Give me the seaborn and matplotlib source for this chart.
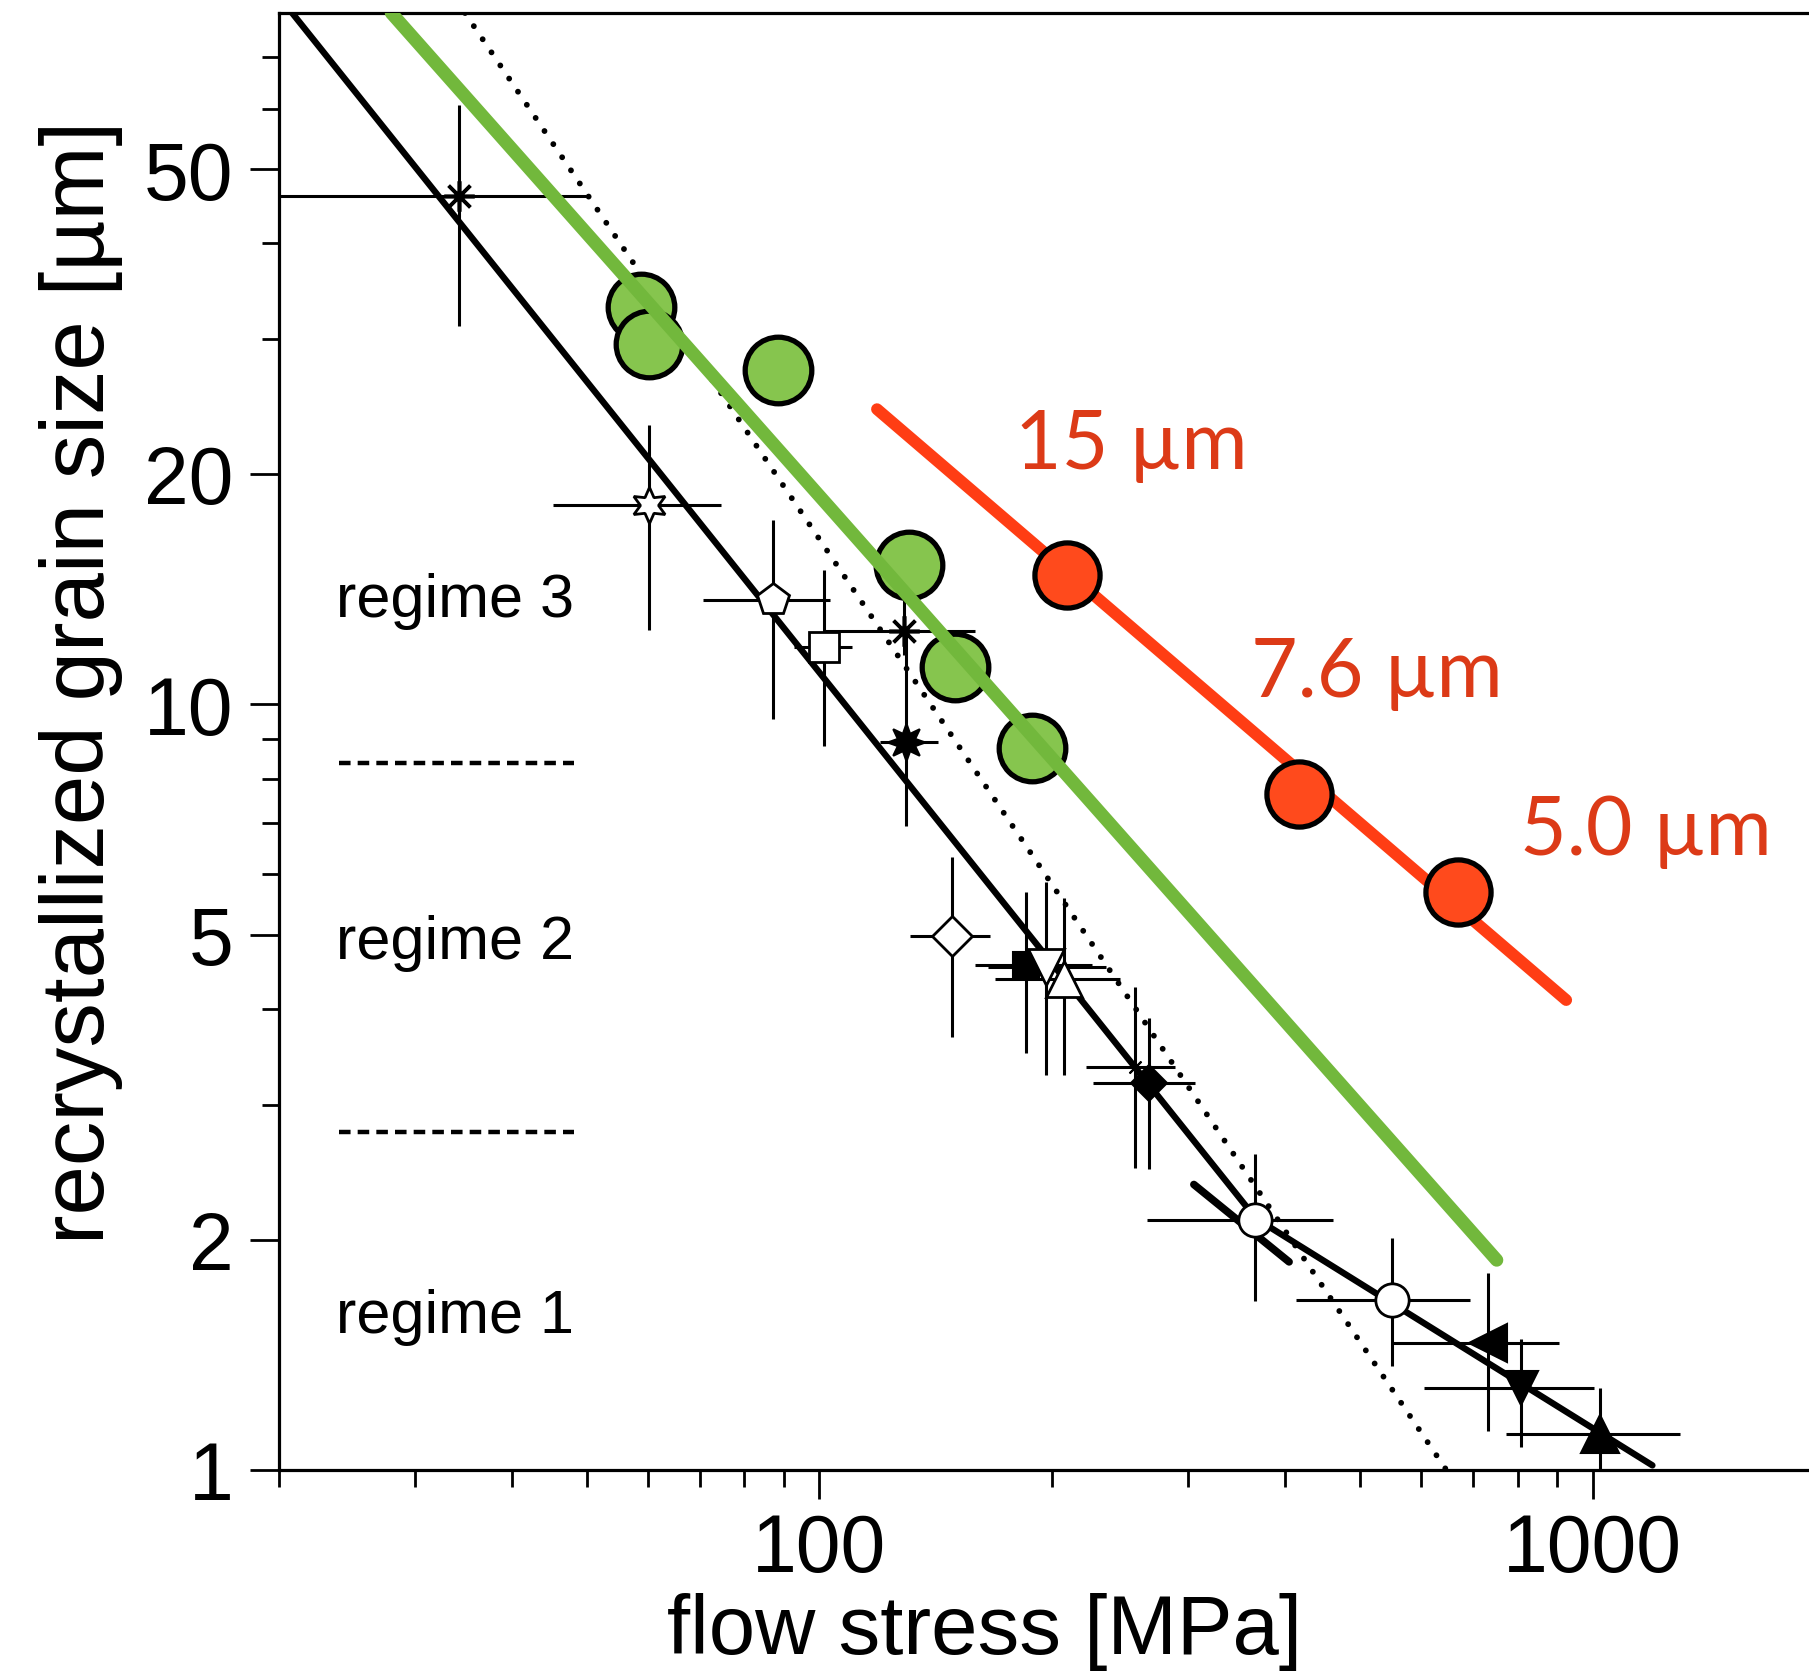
import numpy as np
import pandas as pd
import matplotlib
matplotlib.use("Agg")
import matplotlib.pyplot as plt
import seaborn as sns
from matplotlib.ticker import FixedLocator, FixedFormatter, NullFormatter

# ---------------- data ----------------
# green circles: flow stress [MPa], grain size [um]
green_stress = [58.8, 60.2, 88.4, 130.7, 149.8, 188.5]
green_size = [33.0, 29.6, 27.3, 15.2, 11.2, 8.76]
green_fit_stress = [27.95, 751.6]
green_fit_size = [80.0, 1.88]

# red circles
red_stress = [208.9, 417.4, 669.8]
red_size = [14.76, 7.63, 5.68]
red_fit_stress = [118.7, 924.4]
red_fit_size = [24.3, 4.11]
red_labels = ["15 µm", "7.6 µm", "5.0 µm"]
red_label_stress = [179.0, 362.0, 805.0]
red_label_size = [21.8, 10.98, 6.83]

# black piezometer lines
steep_stress = [20.8, 367.0]
steep_size = [80.0, 2.13]
regime1_stress = [367.0, 1195.0]
regime1_size = [2.13, 1.014]
stub_stress = [305.0, 405.0]
stub_size = [2.36, 1.87]
dotted_stress = [34.8, 647.0]
dotted_size = [80.0, 1.0]

# black data points with error bars
pt_stress = [34.2, 60.2, 87.2, 101.4, 128.8, 129.3, 148.3, 185.1, 196.5, 207.2,
             256.2, 266.5, 366.3, 550.4, 731.7, 809.0, 1023.5]
pt_size = [46.1, 18.2, 13.7, 11.88, 12.47, 8.92, 4.99, 4.56, 4.54, 4.38,
           3.365, 3.20, 2.12, 1.665, 1.467, 1.278, 1.115]
pt_stress_lo = [15.0, 45.2, 70.7, 92.6, 101.2, 119.7, 131.1, 158.8, 165.0, 168.7,
                221.5, 225.8, 265.0, 413.6, 551.2, 605.2, 771.7]
pt_stress_hi = [49.9, 74.5, 103.1, 110.2, 159.0, 142.4, 166.4, 225.5, 235.0, 244.5,
                288.3, 306.4, 461.1, 694.0, 904.3, 1003.0, 1296.0]
pt_size_lo = [31.2, 12.5, 9.56, 8.83, 11.6, 6.93, 3.68, 3.5, 3.28, 3.28,
              2.48, 2.47, 1.66, 1.366, 1.126, 1.072, 1.0]
pt_size_hi = [60.6, 23.2, 17.4, 15.0, 14.1, 12.5, 6.31, 5.69, 5.86, 5.58,
              4.28, 3.89, 2.59, 2.01, 1.81, 1.484, 1.278]

# regime annotations
regime_labels = ["regime 3", "regime 2", "regime 1"]
regime_label_size = [13.67, 4.89, 1.587]
regime_boundary_size = [8.38, 2.766]
regime_text_stress = 23.7
regime_line_stress = [23.9, 48.2]

y_ticks = [1, 2, 5, 10, 20, 50]
y_tick_labels = ["1", "2", "5", "10", "20", "50"]
x_ticks = [100, 1000]
x_tick_labels = ["100", "1000"]

# ---------------- styles ----------------
pt_styles = [
    dict(marker=(8, 2, 0), ms=22, mfc="black", mew=2.6),
    dict(marker=(6, 1, 0), ms=26, mfc="white", mew=2.0),
    dict(marker="p", ms=24, mfc="white", mew=2.0),
    dict(marker="s", ms=21, mfc="white", mew=2.0),
    dict(marker=(8, 2, 0), ms=22, mfc="black", mew=2.6),
    dict(marker=(8, 1, 0), ms=27, mfc="black", mew=1.5),
    dict(marker="D", ms=20, mfc="white", mew=2.0),
    dict(marker="s", ms=19, mfc="black", mew=1.5),
    dict(marker="v", ms=26, mfc="white", mew=2.0),
    dict(marker="^", ms=26, mfc="white", mew=2.0),
    dict(marker=(8, 2, 0), ms=12, mfc="black", mew=1.5),
    dict(marker="D", ms=18, mfc="black", mew=1.5),
    dict(marker="o", ms=24, mfc="white", mew=2.0),
    dict(marker="o", ms=24, mfc="white", mew=2.0),
    dict(marker="<", ms=27, mfc="black", mew=1.5),
    dict(marker="v", ms=25, mfc="black", mew=1.5),
    dict(marker="^", ms=27, mfc="black", mew=1.5),
]

GREEN_FILL = "#86C54E"
GREEN_LINE = "#72B83C"
RED_FILL = "#FF4A1C"
RED_LINE = "#FF3D14"
RED_TEXT = "#DC3A17"

sns.set_theme(style="ticks")
plt.rcParams["font.family"] = ["Liberation Sans", "DejaVu Sans"]
plt.rcParams["axes.linewidth"] = 2.3
plt.rcParams["lines.dash_capstyle"] = "round"

W, H = 1809, 1674
fig = plt.figure(figsize=(W / 100, H / 100), dpi=100)
left_px, bottom_px, top_px = 279, 1471, 14
ax = fig.add_axes([left_px / W, 1 - bottom_px / H, 1 - left_px / W, (bottom_px - top_px) / H])
ax.set_xscale("log")
ax.set_yscale("log")
ax.set_xlim(20, 1905)
ax.set_ylim(1, 80)

# error bars
x = np.array(pt_stress); y = np.array(pt_size)
xerr = [x - np.array(pt_stress_lo), np.array(pt_stress_hi) - x]
yerr = [y - np.array(pt_size_lo), np.array(pt_size_hi) - y]
ax.errorbar(x, y, xerr=xerr, yerr=yerr, fmt="none", ecolor="black",
            elinewidth=2.2, capsize=0, zorder=2)

# black lines
sns.lineplot(x=steep_stress, y=steep_size, ax=ax, color="black", linewidth=4.6,
             sort=False, estimator=None, zorder=3)
sns.lineplot(x=regime1_stress, y=regime1_size, ax=ax, color="black", linewidth=4.6,
             sort=False, estimator=None, zorder=3)
sns.lineplot(x=stub_stress, y=stub_size, ax=ax, color="black", linewidth=5.5,
             sort=False, estimator=None, zorder=3)
sns.lineplot(x=dotted_stress, y=dotted_size, ax=ax, color="black", linewidth=4.2,
             sort=False, estimator=None, zorder=3,
             linestyle=(0, (0.01, 2.7)), dash_capstyle="round")

# black markers
for xi, yi, st in zip(pt_stress, pt_size, pt_styles):
    ax.plot([xi], [yi], linestyle="none", marker=st["marker"], markersize=st["ms"],
            markerfacecolor=st["mfc"], markeredgecolor="black",
            markeredgewidth=st["mew"], zorder=4)

# green
sns.scatterplot(x=green_stress, y=green_size, ax=ax, s=2300, color=GREEN_FILL,
                edgecolor="black", linewidth=3.8, zorder=5)
sns.lineplot(x=green_fit_stress, y=green_fit_size, ax=ax, color=GREEN_LINE, linewidth=9.5,
             sort=False, estimator=None, zorder=6)

# red
sns.lineplot(x=red_fit_stress, y=red_fit_size, ax=ax, color=RED_LINE, linewidth=8.5,
             sort=False, estimator=None, zorder=6)
sns.scatterplot(x=red_stress, y=red_size, ax=ax, s=2200, color=RED_FILL,
                edgecolor="black", linewidth=3.8, zorder=7)
for lab, xs, ys in zip(red_labels, red_label_stress, red_label_size):
    ax.text(xs, ys, lab, color=RED_TEXT, fontsize=58, ha="left", va="center",
            family=["Lato", "DejaVu Sans"], zorder=8)

# regime annotations
for lab, ys in zip(regime_labels, regime_label_size):
    ax.text(regime_text_stress, ys, lab, fontsize=44, ha="left", va="center",
            color="black", zorder=8)
for ys in regime_boundary_size:
    ax.plot(regime_line_stress, [ys, ys], color="black", lw=3.2,
            linestyle=(0, (2.6, 1.6)), dash_capstyle="butt", zorder=3)

# axes styling
ax.yaxis.set_major_locator(FixedLocator(y_ticks))
ax.yaxis.set_major_formatter(FixedFormatter(y_tick_labels))
ax.yaxis.set_minor_locator(FixedLocator([3, 4, 6, 7, 8, 9, 30, 40, 60, 70]))
ax.yaxis.set_minor_formatter(NullFormatter())
ax.xaxis.set_major_locator(FixedLocator(x_ticks))
ax.xaxis.set_major_formatter(FixedFormatter(x_tick_labels))
ax.xaxis.set_minor_locator(FixedLocator([20, 30, 40, 50, 60, 70, 80, 90,
                                         200, 300, 400, 500, 600, 700, 800, 900]))
ax.xaxis.set_minor_formatter(NullFormatter())
ax.tick_params(which="major", direction="out", length=21, width=2.0,
               labelsize=58, pad=12, color="black", labelcolor="black")
ax.tick_params(axis="x", which="major", pad=9)
ax.tick_params(which="minor", direction="out", length=12, width=2.0, color="black")
ax.spines["right"].set_visible(False)
for s in ["left", "bottom", "top"]:
    ax.spines[s].set_color("black")

ax.set_xlabel("flow stress [MPa]", fontsize=60, va="center", color="black")
ax.xaxis.set_label_coords(0.4614, -0.1105)
ax.set_ylabel("recrystallized grain size [µm]", fontsize=64, va="center", color="black")
ax.yaxis.set_label_coords(-0.1294, 0.541)

fig.savefig("out.png", dpi=100)
